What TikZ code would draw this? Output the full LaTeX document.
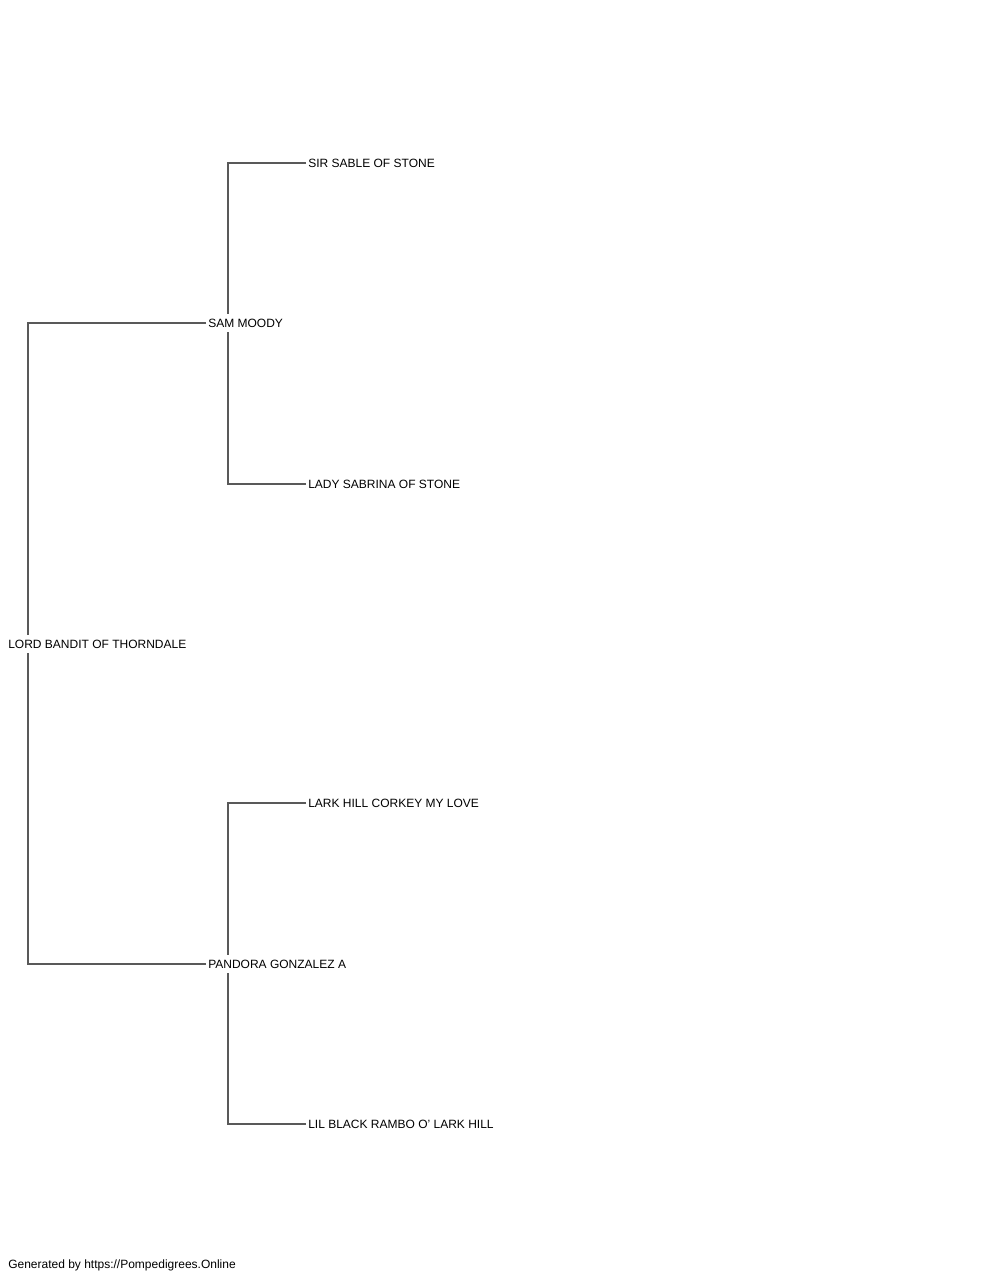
\documentclass[tikz,border=0pt]{standalone}
\usepackage{fontspec}
\setmainfont{Liberation Sans}
\usetikzlibrary{calc}
\begin{document}
\begin{tikzpicture}[x=0.75pt,y=-0.75pt,
  lbl/.style={anchor=west, font=\fontsize{9}{11}\selectfont, inner xsep=1.5pt, inner ysep=3.6pt, text height=6.5pt, text depth=0pt},
  conn/.style={draw=black!65, line width=0.9pt}]
\useasboundingbox[fill=white] (0,0) rectangle (1000,1280);
\node[lbl] (lb) at (6,644) {LORD BANDIT OF THORNDALE};
\node[lbl] (sm) at (206,323) {SAM MOODY};
\node[lbl] (pg) at (206,964) {PANDORA GONZALEZ A};
\node[lbl] (s1) at (306,163) {SIR SABLE OF STONE};
\node[lbl] (s2) at (306,484) {LADY SABRINA OF STONE};
\node[lbl] (d1) at (306,803) {LARK HILL CORKEY MY LOVE};
\node[lbl] (d2) at (306,1124) {LIL BLACK RAMBO O' LARK HILL};
\node[lbl] (ft) at (6,1264) {Generated by https://Pompedigrees.Online};
\draw[conn] (sm.west) -| ($(lb.north west)+(22,0)$);
\draw[conn] (pg.west) -| ($(lb.south west)+(22,0)$);
\draw[conn] (s1.west) -| ($(sm.north west)+(22,0)$);
\draw[conn] (s2.west) -| ($(sm.south west)+(22,0)$);
\draw[conn] (d1.west) -| ($(pg.north west)+(22,0)$);
\draw[conn] (d2.west) -| ($(pg.south west)+(22,0)$);
\end{tikzpicture}
\end{document}
